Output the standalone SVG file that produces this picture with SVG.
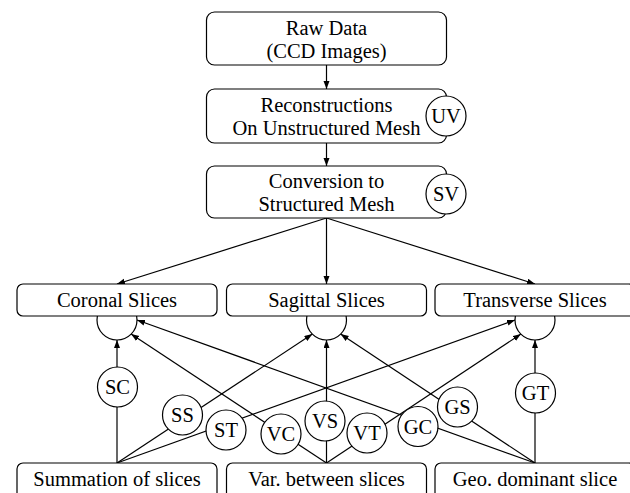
<svg xmlns="http://www.w3.org/2000/svg" width="630" height="493" viewBox="0 0 630 493">
<style>
.box{fill:#fff;stroke:#000;stroke-width:1.2}
.circ{fill:#fff;stroke:#000;stroke-width:1.2}
.conn{fill:none;stroke:#000;stroke-width:1.2;marker-end:url(#arr)}
text{font-family:"Liberation Serif","Times New Roman",serif;font-size:20.5px;fill:#000;text-anchor:middle}
</style>
<defs>
<marker id="arr" markerUnits="userSpaceOnUse" markerWidth="9" markerHeight="7" refX="8" refY="3" orient="auto">
<path d="M0,0 L8,3 L0,6 z" fill="#000"/>
</marker>
</defs>
<rect width="630" height="493" fill="#fff"/>
<g id="connectors">
<line class="conn" x1="326.5" y1="65" x2="326.5" y2="89"/>
<line class="conn" x1="326.5" y1="143" x2="326.5" y2="166"/>
<line class="conn" x1="326.5" y1="218" x2="117" y2="284"/>
<line class="conn" x1="326.5" y1="218" x2="326.5" y2="284"/>
<line class="conn" x1="326.5" y1="218" x2="535" y2="284"/>
<line class="conn" x1="117" y1="463" x2="117" y2="340"/>
<line class="conn" x1="117" y1="463" x2="312.4" y2="334.1"/>
<line class="conn" x1="117" y1="463" x2="515" y2="320"/>
<line class="conn" x1="326.5" y1="463" x2="131.1" y2="334.1"/>
<line class="conn" x1="326.5" y1="463" x2="326.5" y2="340"/>
<line class="conn" x1="326.5" y1="463" x2="520.9" y2="334.1"/>
<line class="conn" x1="535" y1="463" x2="137" y2="320"/>
<line class="conn" x1="535" y1="463" x2="340.6" y2="334.1"/>
<line class="conn" x1="535" y1="463" x2="535" y2="340"/>
</g>
<g id="raw-data">
<rect class="box" x="206.5" y="12" width="240" height="53" rx="8"/>
<text x="326.5" y="35">Raw Data</text>
<text x="326.5" y="58">(CCD Images)</text>
</g>
<g id="reconstructions">
<rect class="box" x="206.5" y="89" width="240" height="54" rx="8"/>
<text x="326.5" y="112">Reconstructions</text>
<text x="326.5" y="135">On Unstructured Mesh</text>
</g>
<g id="uv">
<circle class="circ" cx="446" cy="116" r="20"/>
<text x="446" y="123">UV</text>
</g>
<g id="conversion">
<rect class="box" x="206.5" y="166" width="240" height="52" rx="8"/>
<text x="326.5" y="188">Conversion to</text>
<text x="326.5" y="211">Structured Mesh</text>
</g>
<g id="sv">
<circle class="circ" cx="446" cy="194" r="20"/>
<text x="446" y="201">SV</text>
</g>
<g id="coronal">
<circle class="circ" cx="117" cy="320" r="20"/>
<rect class="box" x="17" y="284" width="200" height="32" rx="6"/>
<text x="117" y="307">Coronal Slices</text>
</g>
<g id="sagittal">
<circle class="circ" cx="326.5" cy="320" r="20"/>
<rect class="box" x="226.5" y="284" width="200" height="32" rx="6"/>
<text x="326.5" y="307">Sagittal Slices</text>
</g>
<g id="transverse">
<circle class="circ" cx="535" cy="320" r="20"/>
<rect class="box" x="435" y="284" width="200" height="32" rx="6"/>
<text x="535" y="307">Transverse Slices</text>
</g>
<g id="sc"><circle class="circ" cx="117.5" cy="387" r="20"/><text x="117.5" y="394">SC</text></g>
<g id="ss"><circle class="circ" cx="182.5" cy="415" r="20"/><text x="182.5" y="422">SS</text></g>
<g id="st"><circle class="circ" cx="226" cy="430" r="20"/><text x="226" y="437">ST</text></g>
<g id="vc"><circle class="circ" cx="281" cy="434" r="20"/><text x="281" y="441">VC</text></g>
<g id="vs"><circle class="circ" cx="325" cy="421" r="20"/><text x="325" y="428">VS</text></g>
<g id="vt"><circle class="circ" cx="367" cy="433" r="20"/><text x="367" y="440">VT</text></g>
<g id="gc"><circle class="circ" cx="418" cy="426.5" r="20"/><text x="418" y="433.5">GC</text></g>
<g id="gs"><circle class="circ" cx="457.5" cy="407" r="20"/><text x="457.5" y="414">GS</text></g>
<g id="gt"><circle class="circ" cx="535.5" cy="393" r="20"/><text x="535.5" y="400">GT</text></g>
<g id="summation">
<rect class="box" x="17" y="463" width="200" height="40" rx="6"/>
<text x="117" y="486">Summation of slices</text>
</g>
<g id="variation">
<rect class="box" x="226.5" y="463" width="200" height="40" rx="6"/>
<text x="326.5" y="486">Var. between slices</text>
</g>
<g id="geo">
<rect class="box" x="435" y="463" width="200" height="40" rx="6"/>
<text x="535" y="486">Geo. dominant slice</text>
</g>
</svg>
